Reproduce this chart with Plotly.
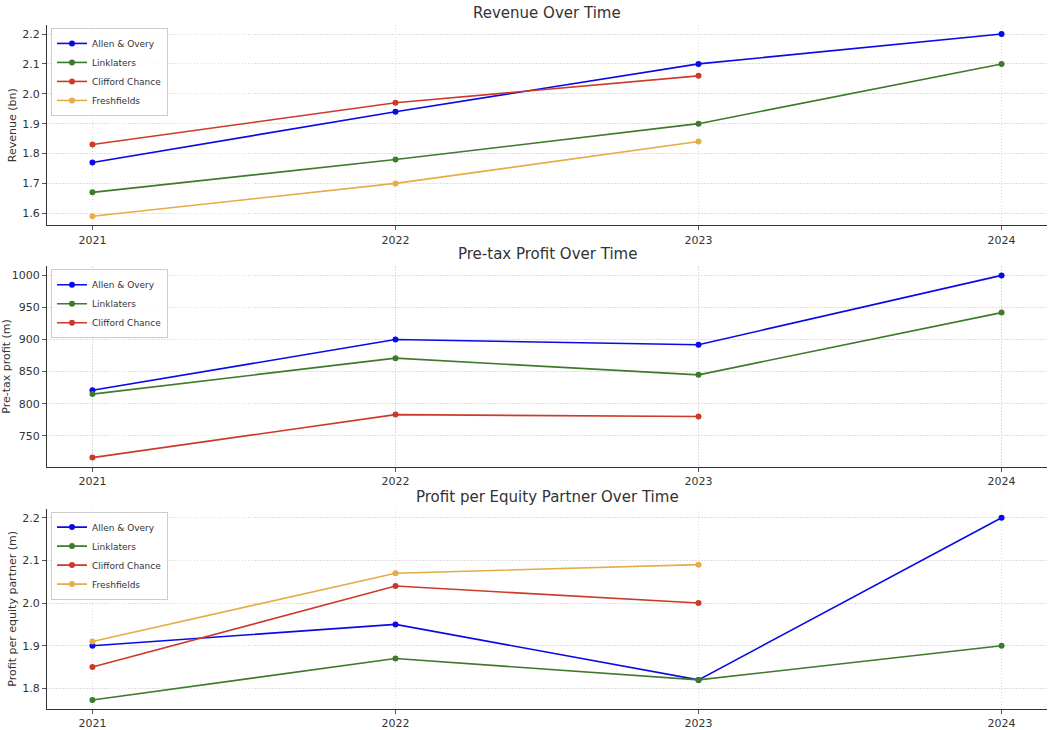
import plotly.graph_objects as go

years = [2021, 2022, 2023, 2024]
years3 = [2021, 2022, 2023]

rev_ao = [1.77, 1.94, 2.10, 2.20]
rev_link = [1.67, 1.78, 1.90, 2.10]
rev_cc = [1.83, 1.97, 2.06]
rev_fresh = [1.59, 1.70, 1.84]

pbt_ao = [821, 900, 892, 1000]
pbt_link = [815, 871, 845, 942]
pbt_cc = [716, 783, 780]

pep_ao = [1.90, 1.95, 1.82, 2.20]
pep_link = [1.773, 1.87, 1.82, 1.90]
pep_cc = [1.85, 2.04, 2.00]
pep_fresh = [1.91, 2.07, 2.09]

titles = ["Revenue Over Time", "Pre-tax Profit Over Time", "Profit per Equity Partner Over Time"]
ytitles = ["Revenue (bn)", "Pre-tax profit (m)", "Profit per equity partner (m)"]

colors = {"Allen & Overy": "#0a0ae6", "Linklaters": "#3d7a2c",
          "Clifford Chance": "#cc3b2a", "Freshfields": "#e6ac45"}

W, H = 1052, 730
FONT = "DejaVu Sans"

panels = [
    ([("Allen & Overy", years, rev_ao), ("Linklaters", years, rev_link),
      ("Clifford Chance", years3, rev_cc), ("Freshfields", years3, rev_fresh)], (25, 226), 0.1, ".1f"),
    ([("Allen & Overy", years, pbt_ao), ("Linklaters", years, pbt_link),
      ("Clifford Chance", years3, pbt_cc)], (267, 468), 50, "d"),
    ([("Allen & Overy", years, pep_ao), ("Linklaters", years, pep_link),
      ("Clifford Chance", years3, pep_cc), ("Freshfields", years3, pep_fresh)], (510, 711), 0.1, ".1f"),
]

fig = go.Figure()
x0, x1 = 47, 1047
layout = {}
annotations = []
GRID = dict(showgrid=True, gridcolor="#dedede", griddash="1.5px,1.5px", gridwidth=1)
for i, (series, (top, bot), dt, fmt) in enumerate(panels):
    n = "" if i == 0 else str(i + 1)
    xa, ya = "x" + n, "y" + n
    leg = "legend" + n
    allv = [v for s in series for v in s[2]]
    lo, hi = min(allv), max(allv)
    pad = (hi - lo) * 0.05
    for name, xs, ys in series:
        fig.add_trace(go.Scatter(
            x=xs, y=ys, name=name, mode="lines+markers",
            line=dict(color=colors[name], width=1.6),
            marker=dict(color=colors[name], size=6),
            xaxis=xa, yaxis=ya, legend=leg))
    layout["xaxis" + n] = dict(
        domain=[x0 / W, x1 / W], anchor=ya, range=[2020.85, 2024.15],
        tickvals=years, ticktext=[str(y) for y in years], **GRID,
        showline=True, linecolor="#333", linewidth=1.2, mirror=False,
        ticks="outside", ticklen=4, tickcolor="#555",
        tickfont=dict(family=FONT, size=11, color="#333"), zeroline=False)
    layout["yaxis" + n] = dict(
        domain=[(H - bot) / H, (H - top) / H], anchor=xa,
        range=[lo - pad, hi + pad], dtick=dt, tickformat=fmt, **GRID,
        showline=True, linecolor="#333", linewidth=1.2,
        ticks="outside", ticklen=4, tickcolor="#555",
        tickfont=dict(family=FONT, size=11, color="#333"), zeroline=False,
        title=dict(text=ytitles[i], font=dict(family=FONT, size=11, color="#333"), standoff=3))
    layout[leg] = dict(
        x=51 / W, y=(H - top - 3) / H, xanchor="left", yanchor="top",
        bgcolor="rgba(255,255,255,0.85)", bordercolor="#cccccc", borderwidth=1,
        font=dict(family=FONT, size=9, color="#333"), tracegroupgap=0,
        itemwidth=30)
    annotations.append(dict(
        text=titles[i], x=(x0 + x1) / 2 / W, y=(H - top + 1) / H,
        xref="paper", yref="paper", showarrow=False, xanchor="center", yanchor="bottom",
        font=dict(family=FONT, size=15, color="#333")))

fig.update_layout(
    width=W, height=H, margin=dict(l=0, r=0, t=0, b=0),
    paper_bgcolor="white", plot_bgcolor="white",
    font=dict(family=FONT), annotations=annotations, **layout)

fig.write_html("out.html", config={"displayModeBar": False},
               post_script="document.body.style.margin='0';document.body.style.padding='0';")
